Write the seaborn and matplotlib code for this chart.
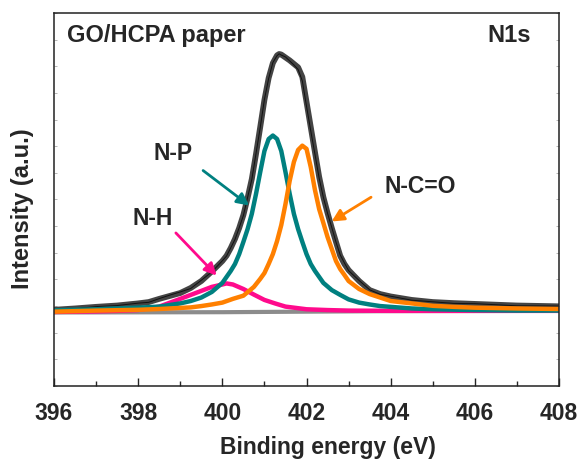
import numpy as np
import pandas as pd
import matplotlib
matplotlib.use("Agg")
import matplotlib.pyplot as plt
import seaborn as sns

# ------------------------------------------------------------
# Data (binding energy in eV, intensity in a.u.)
# ------------------------------------------------------------
env_x = [396.0, 396.5, 397.0, 397.5, 398.0, 398.25, 398.5, 398.75, 399.0, 399.25,
         399.5, 399.75, 400.0, 400.1, 400.2, 400.3, 400.4, 400.5, 400.6, 400.7,
         400.8, 400.9, 401.0, 401.1, 401.2, 401.3, 401.35, 401.4, 401.5, 401.6,
         401.7, 401.8, 401.9, 402.0, 402.1, 402.2, 402.3, 402.4, 402.5, 402.6,
         402.7, 402.8, 402.9, 403.0, 403.25, 403.5, 403.75, 404.0, 404.5, 405.0,
         405.5, 406.0, 407.0, 408.0]
env_y = [2.86, 2.91, 2.97, 3.02, 3.10, 3.15, 3.27, 3.38, 3.49, 3.68,
         3.94, 4.30, 4.69, 4.89, 5.18, 5.52, 5.93, 6.42, 7.06, 7.77,
         8.71, 9.72, 10.74, 11.56, 12.12, 12.41, 12.46, 12.44, 12.33, 12.22,
         12.09, 11.96, 11.60, 10.66, 9.72, 8.78, 7.85, 7.09, 6.49, 5.93,
         5.41, 4.89, 4.58, 4.35, 3.94, 3.60, 3.45, 3.36, 3.23, 3.15,
         3.11, 3.08, 3.02, 2.99]
# measured spectrum (same energies as the envelope)
raw_y = [2.87, 2.90, 2.98, 3.02, 3.11, 3.14, 3.28, 3.41, 3.53, 3.66,
         3.97, 4.28, 4.70, 4.88, 5.19, 5.50, 5.94, 6.40, 7.08, 7.75,
         8.73, 9.70, 10.76, 11.54, 12.14, 12.40, 12.47, 12.42, 12.35, 12.20,
         12.05, 11.88, 11.45, 10.50, 9.58, 8.70, 7.80, 7.08, 6.48, 5.95,
         5.40, 4.92, 4.62, 4.33, 3.96, 3.61, 3.44, 3.37, 3.22, 3.16,
         3.10, 3.09, 3.01, 3.00]

np_x = [396.0, 397.0, 398.0, 398.5, 399.0, 399.25, 399.5, 399.75, 400.0,
        400.2, 400.3, 400.4, 400.5, 400.6, 400.7, 400.8, 400.9,
        401.0, 401.1, 401.2, 401.3, 401.4, 401.5, 401.6, 401.7, 401.8, 401.9,
        402.0, 402.1, 402.2, 402.4, 402.6, 402.8,
        403.0, 403.25, 403.5, 403.75, 404.0, 404.5, 405.0, 406.0, 407.0, 408.0]
np_y = [2.84, 2.88, 2.94, 2.98, 3.10, 3.19, 3.32, 3.53, 3.87,
        4.32, 4.58, 4.95, 5.41, 5.89, 6.46, 7.21, 8.03,
        8.82, 9.27, 9.40, 9.27, 8.82, 8.03, 7.21, 6.46, 5.89, 5.41,
        4.95, 4.58, 4.32, 3.87, 3.60, 3.42,
        3.25, 3.13, 3.06, 3.00, 2.97, 2.91, 2.88, 2.85, 2.83, 2.83]

nco_x = [396.0, 397.0, 398.0, 398.5, 399.0, 399.25, 399.5, 399.75, 400.0,
         400.25, 400.5, 400.75, 400.9,
         401.0, 401.1, 401.2, 401.3, 401.4, 401.5, 401.6, 401.7, 401.8, 401.9,
         402.0, 402.1, 402.2, 402.3, 402.4, 402.5, 402.6, 402.7, 402.8, 402.9, 403.0,
         403.25, 403.5, 403.75, 404.0, 404.5, 405.0, 405.5, 406.0, 407.0, 408.0]
nco_y = [2.79, 2.83, 2.86, 2.89, 2.93, 2.95, 3.00, 3.06, 3.13,
         3.27, 3.39, 3.72, 4.02,
         4.24, 4.58, 4.95, 5.44, 6.04, 6.83, 7.70, 8.41, 8.86, 9.02,
         8.90, 8.22, 7.36, 6.64, 6.12, 5.59, 5.14, 4.69, 4.39, 4.17, 3.94,
         3.64, 3.45, 3.32, 3.19, 3.10, 3.01, 2.97, 2.94, 2.91, 2.89]

nh_x = [396.0, 397.0, 397.5, 398.0, 398.5, 399.0, 399.25, 399.5, 399.75, 400.0,
        400.1, 400.25, 400.5, 400.75, 401.0, 401.25, 401.5, 401.75, 402.0, 402.5,
        403.0, 404.0, 406.0, 408.0]
nh_y = [2.78, 2.80, 2.82, 2.85, 2.98, 3.27, 3.42, 3.57, 3.72, 3.81,
        3.85, 3.81, 3.64, 3.43, 3.23, 3.10, 2.98, 2.93, 2.88, 2.85,
        2.83, 2.82, 2.82, 2.82]

bg_x = [396.0, 400.0, 402.0, 404.0, 408.0]
bg_y = [2.76, 2.77, 2.79, 2.81, 2.82]

x_ticks = [396, 398, 400, 402, 404, 406, 408]

# ------------------------------------------------------------
# Plot
# ------------------------------------------------------------
sns.set_theme(style="ticks")
plt.rcParams['font.family'] = ['Liberation Sans', 'DejaVu Sans']
plt.rcParams['font.weight'] = 'bold'

fig, ax = plt.subplots(figsize=(5.79, 4.60), dpi=100)
fig.subplots_adjust(left=0.0933, right=0.9655, bottom=0.1587, top=0.9696)

sns.lineplot(x=bg_x, y=bg_y, color="#8c8c8c", lw=3, ax=ax)
sns.lineplot(x=env_x, y=env_y, color="#444444", lw=4.2, ax=ax)
sns.lineplot(x=env_x, y=raw_y, color="#111111", lw=0.7, ax=ax)
sns.lineplot(x=nh_x, y=nh_y, color="#ff0a8c", lw=3.2, ax=ax)
sns.lineplot(x=np_x, y=np_y, color="#008080", lw=3.2, ax=ax)
sns.lineplot(x=nco_x, y=nco_y, color="#ff8000", lw=3.2, ax=ax)

ax.set_xlim(396, 408)
ax.set_ylim(0, 14)
ax.set_xticks(x_ticks)
ax.set_xticks(np.arange(397, 408, 2), minor=True)
ax.set_yticks(np.arange(0, 15, 1))
ax.set_yticklabels([])
ax.tick_params(axis='x', which='major', direction='in', length=6, width=1,
               labelsize=16.5, pad=11)
ax.tick_params(axis='x', which='minor', direction='in', length=3.5, width=1)
ax.tick_params(axis='y', direction='in', length=2, width=0.5, color="#9a9a9a",
               left=True, right=True)
for lab in ax.get_xticklabels():
    lab.set_fontweight('bold')
for sp in ax.spines.values():
    sp.set_visible(True)
    sp.set_linewidth(1.1)
    sp.set_color("#222222")

ax.set_xlabel("Binding energy (eV)", fontsize=16.5, fontweight='bold')
ax.xaxis.set_label_coords(0.5426, -0.162, transform=ax.transAxes)
ax.xaxis.label.set_va('center')
ax.set_ylabel("Intensity (a.u.)", fontsize=17, fontweight='bold')
ax.yaxis.set_label_coords(-0.063, 0.477, transform=ax.transAxes)
ax.yaxis.label.set_va('center')

ax.text(396.30, 13.21, "GO/HCPA paper", fontsize=17, fontweight='bold',
        ha='left', va='center')
ax.text(407.34, 13.21, "N1s", fontsize=17, fontweight='bold', ha='right', va='center')

ax.text(398.83, 8.78, "N-P", fontsize=16.5, fontweight='bold', ha='center', va='center')
ax.annotate("", xy=(400.69, 6.71), xytext=(399.49, 8.15),
            arrowprops=dict(arrowstyle='-|>', color="#008080", lw=2, mutation_scale=18))
ax.text(398.35, 6.34, "N-H", fontsize=16.5, fontweight='bold', ha='center', va='center')
ax.annotate("", xy=(399.91, 4.07), xytext=(398.85, 5.82),
            arrowprops=dict(arrowstyle='-|>', color="#ff0a8c", lw=2, mutation_scale=18))
ax.text(404.70, 7.51, "N-C=O", fontsize=16.5, fontweight='bold', ha='center', va='center')
ax.annotate("", xy=(402.54, 6.12), xytext=(403.59, 7.14),
            arrowprops=dict(arrowstyle='-|>', color="#ff8000", lw=2, mutation_scale=18))

plt.savefig("out.png", dpi=100)
